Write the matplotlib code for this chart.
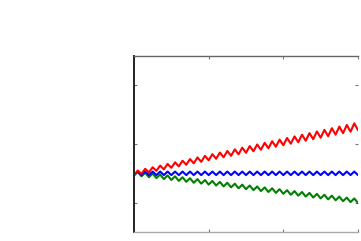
"""
Three oscillating signals: rising (red), flat (blue), falling (green).
Run: python plot.py
"""
import numpy as np
import matplotlib
matplotlib.use("Agg")
import matplotlib.pyplot as plt

# sample positions: one value per peak / trough, 61 of them over 0..3
t = np.linspace(0, 3, 61)

red = [0.465, 0.549, 0.491, 0.577, 0.516, 0.604, 0.542, 0.632, 0.568, 0.660,
       0.594, 0.688, 0.619, 0.715, 0.645, 0.743, 0.671, 0.771, 0.696, 0.798,
       0.722, 0.826, 0.748, 0.854, 0.773, 0.881, 0.799, 0.909, 0.825, 0.937,
       0.850, 0.964, 0.876, 0.992, 0.902, 1.020, 0.928, 1.047, 0.953, 1.075,
       0.979, 1.103, 1.005, 1.130, 1.030, 1.158, 1.056, 1.186, 1.082, 1.214,
       1.107, 1.241, 1.133, 1.269, 1.159, 1.297, 1.185, 1.325, 1.210, 1.352,
       1.236]

blue = [0.47, 0.53] * 30 + [0.47]

green = [0.465, 0.527, 0.449, 0.511, 0.434, 0.496, 0.418, 0.480, 0.402, 0.464,
         0.387, 0.449, 0.371, 0.433, 0.355, 0.417, 0.339, 0.402, 0.324, 0.386,
         0.308, 0.370, 0.292, 0.354, 0.277, 0.339, 0.261, 0.323, 0.245, 0.307,
         0.230, 0.292, 0.214, 0.276, 0.198, 0.260, 0.182, 0.245, 0.167, 0.229,
         0.151, 0.213, 0.135, 0.197, 0.120, 0.182, 0.104, 0.166, 0.088, 0.150,
         0.073, 0.135, 0.057, 0.119, 0.041, 0.103, 0.025, 0.087, 0.010, 0.072,
         -0.006]

xticks = [0, 1, 2, 3]
yticks = [0, 1, 2]


def main():
    fig = plt.figure(figsize=(3.61, 2.41), dpi=100)
    ax = fig.add_axes([134 / 361, 9 / 241, 224 / 361, 176 / 241])

    kw = dict(lw=1.5, solid_joinstyle="round", solid_capstyle="round")
    ax.plot(t, green, color="#008000", **kw)
    ax.plot(t, blue, color="#0000ff", **kw)
    ax.plot(t, red, color="#ff0000", **kw)

    ax.set_xlim(0, 3)
    ax.set_ylim(-0.5, 2.5)
    ax.set_xticks(xticks)
    ax.set_yticks(yticks)
    ax.tick_params(direction="in", length=2.2, width=0.8, color="#777777",
                   top=True, right=True,
                   labelbottom=False, labelleft=False)

    ax.spines["left"].set_color("#222222")
    ax.spines["left"].set_linewidth(1.4)
    ax.spines["top"].set_color("#666666")
    ax.spines["top"].set_linewidth(1.0)
    ax.spines["bottom"].set_color("#aaaaaa")
    ax.spines["bottom"].set_linewidth(1.0)
    ax.spines["right"].set_visible(False)

    fig.savefig("out.png", dpi=100, facecolor="white")
    plt.close(fig)


if __name__ == "__main__":
    main()
